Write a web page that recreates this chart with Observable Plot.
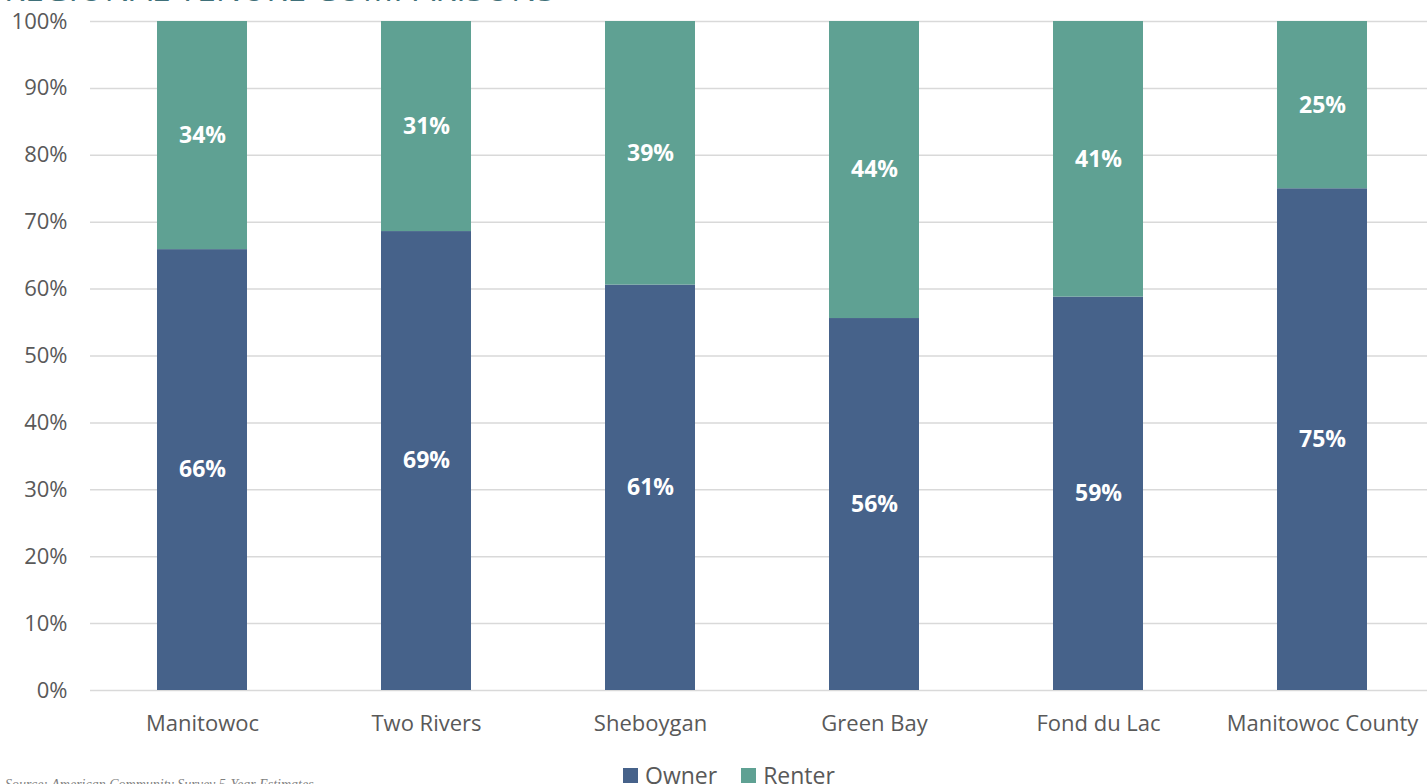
<!DOCTYPE html>
<html>
<head>
<meta charset="utf-8">
<script src="https://cdn.jsdelivr.net/npm/d3@7"></script>
<script src="https://cdn.jsdelivr.net/npm/@observablehq/plot@0.6"></script>
<style>
  html, body { margin: 0; padding: 0; background: #fff; overflow: hidden; width: 1427px; height: 784px; }
  #wrap { position: relative; width: 1427px; height: 784px; overflow: hidden; font-family: "Open Sans", Lato, sans-serif; }
  #title { position: absolute; left: 4px; top: -29px; font-size: 34px; line-height: 34px; color: #3f7079; letter-spacing: 0px; white-space: nowrap; font-family: "Open Sans", Lato, sans-serif; }
  #chart { position: absolute; left: 0; top: 0; width: 1434px; }
  #chart svg { max-width: none !important; }
  #legend { position: absolute; left: 623px; top: 759px; display: flex; align-items: center; font-size: 23px; color: #595959; white-space: nowrap; }
  #legend .sw { display: inline-block; width: 15px; height: 15px; margin-right: 7px; }
  #legend .item { display: flex; align-items: center; margin-right: 24px; }
  #source { position: absolute; left: 5px; top: 777px; font-family: "Liberation Serif", serif; font-style: italic; font-size: 14px; color: #7f7f7f; white-space: nowrap; }
</style>
</head>
<body>
<div id="wrap">
  <div id="title">REGIONAL TENURE COMPARISONS</div>
  <div id="chart"></div>
  <div id="legend"></div>
  <div id="source">Source: American Community Survey 5-Year Estimates</div>
</div>
<script>
const categories = ["Manitowoc", "Two Rivers", "Sheboygan", "Green Bay", "Fond du Lac", "Manitowoc County"];
const ownerValues = [65.9, 68.6, 60.6, 55.6, 58.8, 75.0];
const renterValues = [34.1, 31.4, 39.4, 44.4, 41.2, 25.0];
const seriesNames = ["Owner", "Renter"];
const seriesColors = ["#46628a", "#5fa193"];
const yTicks = [0, 10, 20, 30, 40, 50, 60, 70, 80, 90, 100];

const rows = [];
categories.forEach((c, i) => {
  rows.push({category: c, series: "Owner", value: ownerValues[i]});
  rows.push({category: c, series: "Renter", value: renterValues[i]});
});

const plot = Plot.plot({
  width: 1434,
  height: 740,
  marginTop: 21,
  marginBottom: 50,
  marginLeft: 90,
  marginRight: 0,
  style: {fontFamily: "'Open Sans', Lato, sans-serif", fontSize: "20px", color: "#595959", background: "transparent", maxWidth: "none"},
  x: {domain: categories, paddingInner: 0.6, paddingOuter: 0.3, label: null},
  y: {domain: [0, 100], label: null},
  color: {domain: seriesNames, range: seriesColors},
  marks: [
    Plot.gridY(yTicks, {stroke: "#d9d9d9", strokeOpacity: 1, strokeWidth: 1.5}),
    Plot.barY(rows, Plot.stackY({x: "category", y: "value", fill: "series", order: seriesNames})),
    Plot.text(rows, Plot.stackY({x: "category", y: "value", z: "series", order: seriesNames,
      text: d => Math.round(d.value) + "%", fill: "white", fontWeight: "bold", fontSize: 23})),
    Plot.axisX({tickSize: 0, tickPadding: 25, fontSize: 22, fill: "#595959"}),
    Plot.axisY({ticks: yTicks, tickFormat: d => d + "%", tickSize: 0, tickPadding: 23, fontSize: 22, fill: "#595959"})
  ]
});
document.getElementById("chart").appendChild(plot);

const legend = document.getElementById("legend");
seriesNames.forEach((s, i) => {
  const item = document.createElement("div");
  item.className = "item";
  const sw = document.createElement("span");
  sw.className = "sw";
  sw.style.background = seriesColors[i];
  item.appendChild(sw);
  item.appendChild(document.createTextNode(s));
  legend.appendChild(item);
});
</script>
</body>
</html>
